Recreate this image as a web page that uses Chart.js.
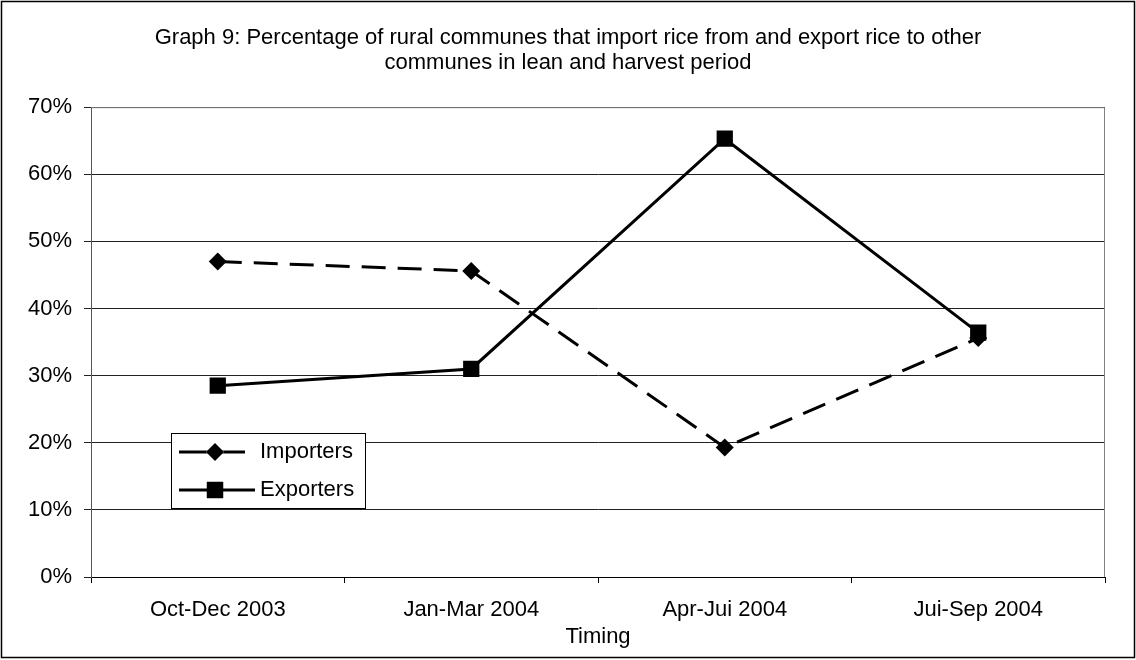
<!DOCTYPE html>
<html>
<head>
<meta charset="utf-8">
<script src="https://cdn.jsdelivr.net/npm/chart.js@4/dist/chart.umd.min.js"></script>
<style>
  html, body { margin: 0; padding: 0; background: #fff; }
  #wrap { width: 1136px; height: 660px; position: relative; }
</style>
</head>
<body>
<div id="wrap"><canvas id="canvasGraph"></canvas></div>
<script>
var periods = ['Oct-Dec 2003', 'Jan-Mar 2004', 'Apr-Jui 2004', 'Jui-Sep 2004'];
var importers = [47.0, 45.6, 19.3, 35.6];
var exporters = [28.5, 31.0, 65.3, 36.4];
var yTicks = [0, 10, 20, 30, 40, 50, 60, 70];

var FONT = 'Liberation Sans, Arial, sans-serif';
var FSIZE = 22;

// outer frame + plot area border
var framePlugin = {
    id: 'frame',
    beforeDraw: function (chart) {
        let ctx = chart.ctx;
        ctx.save();
        ctx.fillStyle = '#fff';
        ctx.fillRect(0, 0, chart.width, chart.height);
        ctx.strokeStyle = '#000';
        ctx.lineWidth = 1.5;
        ctx.strokeRect(1.5, 1.5, chart.width - 3, chart.height - 4);
        ctx.restore();
    },
    beforeDatasetsDraw: function (chart) {
        let a = chart.chartArea;
        let ctx = chart.ctx;
        ctx.save();
        ctx.strokeStyle = '#808080';
        ctx.lineWidth = 1;
        ctx.beginPath();
        ctx.moveTo(a.left, a.top + 0.5);
        ctx.lineTo(a.right - 0.5, a.top + 0.5);
        ctx.lineTo(a.right - 0.5, a.bottom);
        ctx.stroke();
        ctx.restore();
    }
};

// legend box inside the plot, like the original
var boxLegend = {
    id: 'boxLegend',
    afterDatasetsDraw: function (chart) {
        let ctx = chart.ctx;
        let x0 = 171, y0 = 433, w = 194, h = 75;
        ctx.save();
        ctx.fillStyle = '#fff';
        ctx.fillRect(x0, y0, w, h);
        ctx.strokeStyle = '#000';
        ctx.lineWidth = 1;
        ctx.strokeRect(x0 + 0.5, y0 + 0.5, w, h);
        let rows = [452, 490];
        let ends = [245, 255];
        chart.data.datasets.forEach(function (ds, i) {
            let y = rows[i];
            ctx.strokeStyle = ds.borderColor;
            ctx.lineWidth = ds.borderWidth;
            ctx.setLineDash([]);
            ctx.beginPath();
            ctx.moveTo(179, y);
            ctx.lineTo(ends[i], y);
            ctx.stroke();
            Chart.helpers.drawPoint(ctx, {
                pointStyle: ds.pointStyle,
                radius: ds.pointRadius,
                rotation: 0,
                borderWidth: 0
            }, 215, y);
            ctx.fillStyle = '#000';
            ctx.fill();
            ctx.font = FSIZE + 'px ' + FONT;
            ctx.textAlign = 'left';
            ctx.textBaseline = 'middle';
            ctx.fillText(ds.label, 260, y);
        });
        ctx.restore();
    }
};

var config = {
    type: 'line',
    data: {
        labels: periods,
        datasets: [{
            label: 'Importers',
            data: importers,
            borderColor: '#000',
            backgroundColor: '#000',
            borderWidth: 3,
            borderDash: [24, 12],
            pointStyle: 'rectRot',
            pointRadius: 9,
            pointBorderWidth: 0,
            fill: false
        }, {
            label: 'Exporters',
            data: exporters,
            borderColor: '#000',
            backgroundColor: '#000',
            borderWidth: 3,
            pointStyle: 'rect',
            pointRadius: 11.5,
            pointBorderWidth: 0,
            fill: false
        }]
    },
    options: {
        animation: false,
        responsive: false,
        devicePixelRatio: 1,
        layout: { padding: 0 },
        plugins: {
            legend: { display: false },
            tooltip: { enabled: false },
            title: {
                display: true,
                text: ['Graph 9: Percentage of rural communes that import rice from and export rice to other',
                       'communes in lean and harvest period'],
                color: '#000',
                font: { family: FONT, size: FSIZE, weight: 'normal', lineHeight: 1.14 },
                padding: { top: 25, bottom: 32 }
            }
        },
        scales: {
            x: {
                type: 'category',
                offset: true,
                grid: {
                    offset: true,
                    drawOnChartArea: false,
                    drawTicks: true,
                    tickLength: 6,
                    color: '#000'
                },
                border: { color: '#000', width: 1 },
                ticks: {
                    color: '#000',
                    font: { family: FONT, size: FSIZE },
                    padding: 14,
                    maxRotation: 0
                },
                title: {
                    display: true,
                    text: 'Timing',
                    color: '#000',
                    font: { family: FONT, size: FSIZE },
                    padding: { top: 0, bottom: 10 }
                },
                afterFit: function (scale) { scale.height = 83; }
            },
            y: {
                min: 0,
                max: 70,
                afterBuildTicks: function (scale) {
                    scale.ticks = yTicks.map(function (v) { return { value: v }; });
                },
                grid: {
                    color: '#222',
                    tickLength: 7,
                    drawTicks: true
                },
                border: { color: '#555', width: 1 },
                ticks: {
                    color: '#000',
                    font: { family: FONT, size: FSIZE },
                    padding: 12,
                    callback: function (v) { return v + '%'; }
                },
                afterFit: function (scale) { scale.width = 91; }
            },
            // empty right margin so the title stays centred on the page
            yRight: {
                position: 'right',
                min: 0,
                max: 70,
                grid: { display: false, drawOnChartArea: false },
                border: { display: false },
                ticks: { display: false },
                afterFit: function (scale) { scale.width = 31; }
            }
        }
    },
    plugins: [framePlugin, boxLegend]
};

var canvas = document.getElementById('canvasGraph');
canvas.width = 1136;
canvas.height = 660;
var graph = new Chart(canvas.getContext('2d'), config);
</script>
</body>
</html>
